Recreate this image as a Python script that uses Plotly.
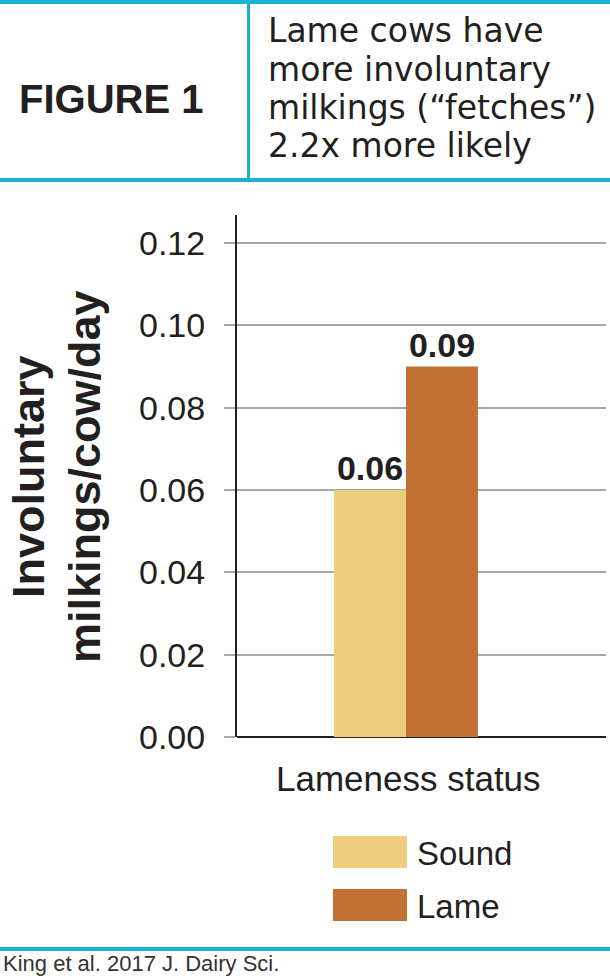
import plotly.graph_objects as go

# ---- data ----
category = ["Lameness status"]
series_names = ["Sound", "Lame"]
series_values = [[0.06], [0.09]]
series_colors = ["#ecce7c", "#c27033"]
value_labels = [["0.06"], ["0.09"]]
y_ticks = [0.00, 0.02, 0.04, 0.06, 0.08, 0.10, 0.12]
y_tick_labels = ["0.00", "0.02", "0.04", "0.06", "0.08", "0.10", "0.12"]

header_label = "FIGURE 1"
header_lines = ["Lame cows have", "more involuntary", "milkings (“fetches”)", "2.2x more likely"]
y_title_lines = ["Involuntary", "milkings/cow/day"]
x_title = "Lameness status"
source = "King et al. 2017 J. Dairy Sci."

W, H = 610, 976
L, R, T, B = 237, 606, 215, 737  # plot area in px
PW, PH = R - L, B - T

def px(x):
    return (x - L) / PW

def py(y):
    return (B - y) / PH

SANS = "Liberation Sans, Arial, sans-serif"
INK = "#231f20"
CYAN = "#1bb1d3"

fig = go.Figure()
for name, vals, col, lab in zip(series_names, series_values, series_colors, value_labels):
    fig.add_trace(go.Bar(
        x=category, y=vals, name=name, marker=dict(color=col, line=dict(width=0)),
        text=lab, textposition="outside", cliponaxis=False,
        textfont=dict(family=SANS, size=34, color=INK, weight="bold"),
        showlegend=False,
    ))

fig.update_layout(
    width=W, height=H,
    margin=dict(l=L, r=W - R, t=T, b=H - B),
    paper_bgcolor="white", plot_bgcolor="white",
    barmode="group", bargap=0.61, bargroupgap=0,
    font=dict(family=SANS, color=INK),
)
fig.update_xaxes(range=[-0.458, 0.542], showticklabels=False, showgrid=False,
                 showline=False, zeroline=False, ticks="")
fig.update_yaxes(range=[0, 0.1268], tickvals=y_ticks, ticktext=y_tick_labels,
                 tickfont=dict(family=SANS, size=34, color=INK),
                 showgrid=True, gridcolor="#a8a8a8", gridwidth=1.5,
                 ticks="outside", ticklen=11, tickwidth=1.5, tickcolor="#a8a8a8",
                 ticklabelstandoff=12,
                 showline=True, linecolor=INK, linewidth=2,
                 zeroline=True, zerolinecolor=INK, zerolinewidth=2)

shapes = []
# cyan rules
for yy, w in [(2, 4), (180, 4), (949, 4)]:
    shapes.append(dict(type="line", xref="paper", yref="paper",
                       x0=px(0), x1=px(W), y0=py(yy), y1=py(yy),
                       line=dict(color=CYAN, width=w)))
shapes.append(dict(type="line", xref="paper", yref="paper",
                   x0=px(248.5), x1=px(248.5), y0=py(0), y1=py(180),
                   line=dict(color=CYAN, width=3)))
# legend swatches
sw_tops = [836, 889]
for col, top in zip(series_colors, sw_tops):
    shapes.append(dict(type="rect", xref="paper", yref="paper",
                       x0=px(333), x1=px(407), y0=py(top + 32), y1=py(top),
                       fillcolor=col, line=dict(width=0)))
fig.update_layout(shapes=shapes)

ann = []
ann.append(dict(text=header_label, x=px(111), y=py(99), xref="paper", yref="paper",
                showarrow=False, xanchor="center", yanchor="middle",
                font=dict(family=SANS, size=40, color=INK, weight="bold")))
for i, line in enumerate(header_lines):
    ann.append(dict(text=line, x=px(266), y=py(31 + 38 * i), xref="paper", yref="paper",
                    showarrow=False, xanchor="left", yanchor="middle",
                    font=dict(family="DejaVu Sans, sans-serif", size=33, color=INK)))
for line, cx in zip(y_title_lines, [28, 84]):
    ann.append(dict(text=line, x=px(cx), y=py(477), xref="paper", yref="paper",
                    showarrow=False, textangle=-90, xanchor="center", yanchor="middle",
                    font=dict(family=SANS, size=45, color=INK, weight="bold")))
ann.append(dict(text=x_title, x=px(408), y=py(778), xref="paper", yref="paper",
                showarrow=False, xanchor="center", yanchor="middle",
                font=dict(family=SANS, size=35, color=INK)))
for name, top in zip(series_names, sw_tops):
    ann.append(dict(text=name, x=px(415), y=py(top + 17), xref="paper", yref="paper",
                    showarrow=False, xanchor="left", yanchor="middle",
                    font=dict(family=SANS, size=33, color=INK)))
ann.append(dict(text=source, x=px(1), y=py(963), xref="paper", yref="paper",
                showarrow=False, xanchor="left", yanchor="middle",
                font=dict(family=SANS, size=22, color="#333333")))
fig.update_layout(annotations=ann)

fig.write_html("out.html")
